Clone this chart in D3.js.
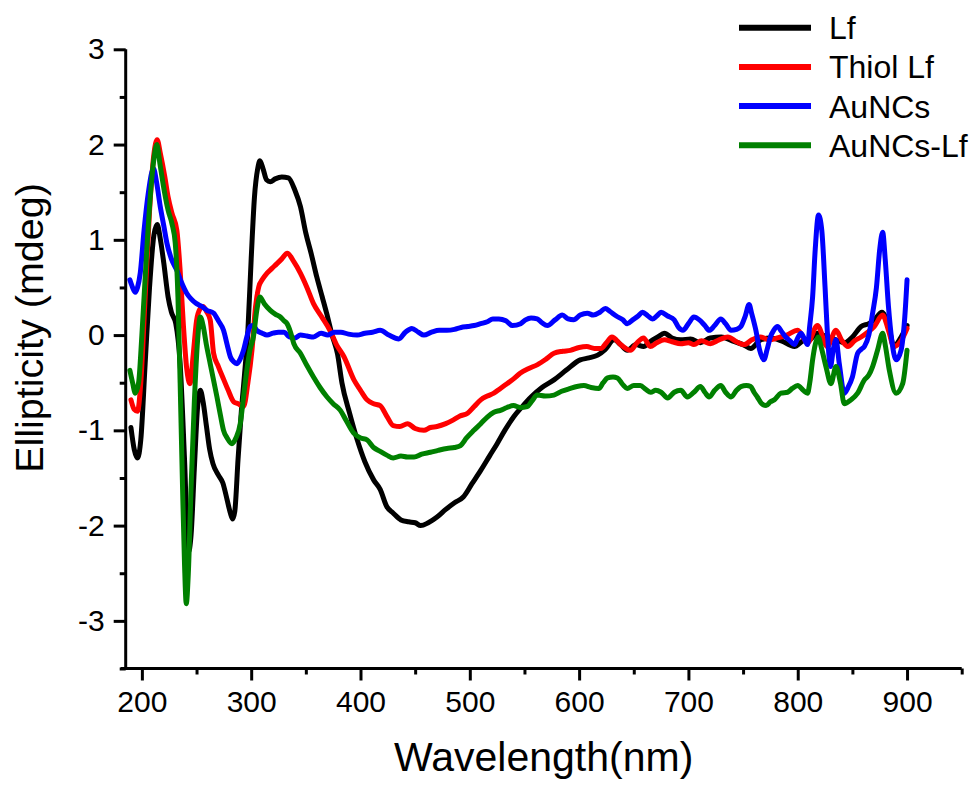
<!DOCTYPE html>
<html>
<head>
<meta charset="utf-8">
<script src="https://cdn.jsdelivr.net/npm/d3@7"></script>
<style>
  html, body { margin: 0; padding: 0; background: #fff; }
  svg { display: block; font-family: "Liberation Sans", Arial, sans-serif; }
</style>
</head>
<body>
<svg id="chart" width="970" height="789"></svg>
<script>
// ---------------- DATA ----------------
const seriesNames = ["Lf", "Thiol Lf", "AuNCs", "AuNCs-Lf"];
const seriesColors = ["#000000", "#ff0000", "#0000ff", "#008000"];

const xTickValues = [200, 300, 400, 500, 600, 700, 800, 900];
const yTickValues = [-3, -2, -1, 0, 1, 2, 3];

const lfWave = [190,193,196,199,203,207,211,214,217,220,224,227,231,235,239,242.5,245,248,251,253.5,256,259,262,265,270,274,278,281,283,285,288,291,294,297,300,303,306,308,311,314,317.5,322,328,334,340,345,350,355,360,365,369,374,379,383,390,397,404,412,418,424,430,437,444,450,455,462,470,478,486,494,502,510,518,525,532,540,548,556,566,577,588,601,609,617,624,632,638,644,652,659,666,672,678,685,693,702,711,720,730,740,750,757,766,775,785,797,805,811,818,827,835,843,850,858,865,870,877,883,888,893,900];
const lfVal = [-0.97,-1.2,-1.29,-1.1,-0.3,0.5,1.05,1.16,1.0,0.76,0.4,0.24,0.12,-0.3,-1.3,-2.28,-2.1,-1.4,-0.75,-0.58,-0.7,-0.95,-1.2,-1.35,-1.47,-1.55,-1.73,-1.87,-1.93,-1.85,-1.3,-0.8,-0.4,0.05,0.8,1.45,1.75,1.83,1.74,1.63,1.61,1.64,1.66,1.65,1.52,1.35,1.07,0.85,0.61,0.4,0.23,0.0,-0.2,-0.5,-0.82,-1.1,-1.33,-1.52,-1.62,-1.8,-1.87,-1.94,-1.96,-1.97,-2.0,-1.97,-1.91,-1.83,-1.76,-1.70,-1.56,-1.42,-1.27,-1.14,-1.0,-0.86,-0.75,-0.65,-0.55,-0.47,-0.37,-0.26,-0.24,-0.21,-0.15,-0.05,-0.1,-0.16,-0.1,-0.12,-0.06,-0.02,0.02,-0.03,-0.05,-0.04,-0.08,-0.03,-0.02,-0.06,-0.1,-0.14,-0.05,-0.03,-0.06,-0.12,-0.06,-0.05,0.02,-0.02,-0.05,-0.08,-0.02,0.09,0.12,0.16,0.24,0.1,-0.12,-0.05,0.1];

const thiolWave = [190,193,196,199,203,207,211,214,217,221,224,227.5,232,235,238,241,244,247,250,253,256,259,262.5,265.6,270,275,279,284,288,293,297,300.7,304,307,310,314.5,319,323.6,328,333,339,345,351,357,364,372,378,385,394,400,406,412,418,424,430,436,443,450,458,464,470,478,485,491,498,504,510,516,522,528,534,540,546,554,562,570,577,585,592,600,607,614,620,625,630,638,647,653,659,665,671,678,685,693,700,705,712,720,728,736,744,751,758,766,774,781.5,790,800,809,818,827,835,840,846,852,858,864,870,877.7,883,888,895,900];
const thiolVal = [-0.68,-0.78,-0.8,-0.5,0.4,1.3,1.9,2.05,1.9,1.66,1.45,1.28,1.10,0.68,0.1,-0.35,-0.51,-0.2,0.15,0.27,0.3,0.25,0.16,-0.19,-0.33,-0.47,-0.58,-0.70,-0.72,-0.75,-0.5,-0.16,0.3,0.51,0.58,0.65,0.70,0.75,0.80,0.86,0.77,0.65,0.5,0.33,0.2,0.05,-0.1,-0.23,-0.47,-0.58,-0.68,-0.72,-0.74,-0.85,-0.95,-0.96,-0.93,-0.98,-1.0,-0.97,-0.96,-0.93,-0.89,-0.85,-0.82,-0.75,-0.68,-0.64,-0.61,-0.56,-0.51,-0.46,-0.40,-0.35,-0.31,-0.25,-0.19,-0.17,-0.16,-0.13,-0.12,-0.14,-0.14,-0.08,-0.02,-0.1,-0.16,-0.08,-0.03,-0.12,-0.08,-0.05,-0.07,-0.09,-0.08,-0.1,-0.06,-0.09,-0.05,-0.02,-0.07,-0.1,-0.05,-0.02,-0.05,-0.03,0.0,0.05,-0.08,0.1,-0.12,0.05,-0.05,-0.12,-0.06,-0.02,0.03,0.09,0.21,0.05,-0.12,-0.05,0.07];

const aunWave = [189,191.5,194,196,198.5,202,206,210.6,213.5,216.8,220,223,227,232,236,241,245,250,255,259.5,265.6,270,274.7,278,281,284,287,290,293,296,299,302,305,310,314.5,320,325,330,335,340,345,351,357,364,370,376,382,389,397,404,411,418,426,435,441,447,453,458,465,472,479,486,492,498,504,510,516,521,526.6,533,539,546.5,551,556,561.7,566,571,578,584.6,590,595,601,607.5,613,619,624,628,634,640,644,649,654,658,663,667,671,675,681,687,691,695,700,705,710,715,719,724,729.6,734,739,744,748,752,755.5,758,761.7,765,769,772,775,778,781.5,785,789,793,797,800,803,806,809,811,813.6,816,819,822,825,827,830,832.5,835,838,842.6,846,850,854.8,858,861,865,868.5,872,875,877.7,880,883,886,890,894.5,898,900];
const aunVal = [0.58,0.5,0.45,0.5,0.65,1.1,1.5,1.75,1.6,1.35,1.15,0.96,0.8,0.68,0.56,0.44,0.38,0.33,0.3,0.26,0.23,0.15,0.05,-0.1,-0.23,-0.28,-0.30,-0.25,-0.16,-0.02,0.09,0.1,0.05,0.02,0.0,0.02,0.03,0.03,-0.02,-0.03,0.0,-0.01,-0.02,0.02,0.0,0.03,0.03,0.01,0.0,0.02,0.03,0.05,0.0,-0.04,0.03,0.07,0.03,0.0,0.03,0.05,0.05,0.06,0.08,0.09,0.1,0.12,0.14,0.17,0.17,0.15,0.1,0.12,0.16,0.18,0.17,0.13,0.10,0.16,0.21,0.17,0.16,0.21,0.23,0.21,0.24,0.28,0.25,0.2,0.16,0.12,0.16,0.20,0.24,0.2,0.17,0.2,0.24,0.2,0.16,0.08,0.05,0.12,0.19,0.16,0.1,0.05,0.1,0.17,0.12,0.05,0.06,0.09,0.2,0.32,0.22,0.05,-0.15,-0.26,-0.15,-0.02,0.05,0.09,0.04,-0.02,-0.06,-0.1,-0.03,0.02,-0.04,-0.1,0.1,0.4,0.9,1.26,1.1,0.5,0.05,-0.33,-0.15,-0.05,-0.3,-0.61,-0.55,-0.44,-0.19,-0.15,-0.12,0.0,0.23,0.5,0.9,1.08,0.8,0.3,-0.05,-0.26,-0.16,0.2,0.58];

const aunLfWave = [189,191.5,194,197,200,204,208,211,213.7,216.5,219.8,224,227.5,230.5,233,235,237,239,240.6,242.5,245,248,251,253.4,256,259,262.5,265.5,268.7,272,274.7,278,282.4,286,290,293,296,299,302,305,308,312,317.5,322,326.7,330,332.8,336,339,345,351,357,363,369.4,375,381.6,387,393.8,400,406,412,418,424,430,437,443,449,456,464,471,479,486,491.5,497,503.7,510,516,522,528,534,540,546,552.6,557,561.7,569,577,584,592,598,604.4,611,618,622,626,631,635,640,644,650,656,661,665.5,670,675,681,687,693,699,705,711,715,719,724,729.6,734,739,744,748,753,757,760,763,767,771,775,778.5,784.6,790.7,795,800,805,809,811,813.6,816,818.7,822,825.8,830.4,835,839,842.6,848.7,854.8,861,865,868.5,873,877.7,880,883.8,890,896,900];
const aunLfVal = [-0.37,-0.5,-0.61,-0.5,0.0,0.8,1.5,1.85,2.0,1.8,1.56,1.31,1.17,0.97,0.4,-0.5,-1.5,-2.4,-2.82,-2.5,-1.6,-0.7,-0.05,0.19,0.1,-0.1,-0.30,-0.47,-0.65,-0.85,-1.0,-1.08,-1.14,-1.08,-0.93,-0.65,-0.37,-0.15,-0.02,0.25,0.40,0.33,0.26,0.22,0.19,0.15,0.12,0.03,-0.09,-0.19,-0.32,-0.44,-0.55,-0.65,-0.72,-0.79,-0.9,-1.03,-1.08,-1.1,-1.18,-1.22,-1.26,-1.29,-1.27,-1.28,-1.28,-1.25,-1.23,-1.21,-1.19,-1.18,-1.16,-1.08,-1.0,-0.93,-0.86,-0.81,-0.79,-0.76,-0.74,-0.76,-0.75,-0.69,-0.63,-0.64,-0.63,-0.59,-0.56,-0.54,-0.53,-0.55,-0.56,-0.5,-0.45,-0.44,-0.45,-0.52,-0.56,-0.53,-0.53,-0.57,-0.6,-0.58,-0.6,-0.66,-0.6,-0.58,-0.65,-0.6,-0.54,-0.6,-0.65,-0.58,-0.53,-0.6,-0.65,-0.58,-0.54,-0.53,-0.54,-0.6,-0.65,-0.72,-0.74,-0.7,-0.68,-0.61,-0.6,-0.56,-0.53,-0.58,-0.61,-0.5,-0.26,-0.1,-0.02,-0.15,-0.33,-0.51,-0.33,-0.5,-0.72,-0.68,-0.61,-0.47,-0.42,-0.33,-0.16,0.02,-0.1,-0.37,-0.61,-0.51,-0.16];

const seriesWaves = [lfWave, thiolWave, aunWave, aunLfWave];
const seriesVals = [lfVal, thiolVal, aunVal, aunLfVal];

// ---------------- CHART ----------------
const svg = d3.select("#chart");
const x = d3.scaleLinear().domain([185.2, 950]).range([125.7, 961.7]);
const y = d3.scaleLinear().domain([-3.5, 3]).range([668.5, 49.3]);

const axisW = 3;
const hyphenFmt = d => String(d).replace("\u2212", "-");

// curves
const line = d3.line()
  .x(d => x(d[0]))
  .y(d => y(d[1]))
  .curve(d3.curveMonotoneX);

seriesNames.forEach((name, i) => {
  const pts = seriesWaves[i].map((w, j) => [w, seriesVals[i][j]]);
  svg.append("path")
    .datum(pts)
    .attr("fill", "none")
    .attr("stroke", seriesColors[i])
    .attr("stroke-width", 5)
    .attr("stroke-linejoin", "round")
    .attr("stroke-linecap", "round")
    .attr("d", line);
});

// x axis
const xMinor = d3.range(250, 951, 100);
const gx = svg.append("g").attr("transform", `translate(0,${y(-3.5)})`);
gx.call(d3.axisBottom(x).tickValues(xTickValues).tickSize(12).tickPadding(10).tickFormat(hyphenFmt));
gx.append("g").call(d3.axisBottom(x).tickValues(xMinor).tickSize(6).tickFormat(""))
  .select(".domain").remove();
gx.selectAll(".domain").attr("d", `M${x(185.2) - 5},0H${x(950)}`);
gx.selectAll("line, path").attr("stroke", "#000").attr("stroke-width", axisW);
gx.selectAll("text").attr("font-size", 30).attr("fill", "#000")
  .attr("font-family", "Liberation Sans, Arial, sans-serif");

// y axis
const yMinor = d3.range(-3.5, 3, 1);
const gy = svg.append("g").attr("transform", `translate(${x(185.2)},0)`);
gy.call(d3.axisLeft(y).tickValues(yTickValues).tickSize(12).tickPadding(9).tickFormat(hyphenFmt));
gy.append("g").call(d3.axisLeft(y).tickValues(yMinor).tickSize(6).tickFormat(""))
  .select(".domain").remove();
gy.selectAll(".domain").attr("d", `M0,${y(3)}V${y(-3.5) + 1.5}`);
gy.selectAll("line, path").attr("stroke", "#000").attr("stroke-width", axisW);
gy.selectAll("text").attr("font-size", 30).attr("fill", "#000")
  .attr("font-family", "Liberation Sans, Arial, sans-serif");

// axis titles
svg.append("text")
  .attr("x", (x(185.2) + x(950)) / 2)
  .attr("y", 771)
  .attr("text-anchor", "middle")
  .attr("font-size", 41)
  .text("Wavelength(nm)");

svg.append("text")
  .attr("transform", `translate(43,328) rotate(-90)`)
  .attr("text-anchor", "middle")
  .attr("font-size", 39.5)
  .text("Ellipticity (mdeg)");

// legend
const legendY = [27.7, 66.9, 106.1, 145.3];
const lg = svg.append("g");
seriesNames.forEach((name, i) => {
  lg.append("line")
    .attr("x1", 739).attr("x2", 811)
    .attr("y1", legendY[i]).attr("y2", legendY[i])
    .attr("stroke", seriesColors[i]).attr("stroke-width", 6);
  lg.append("text")
    .attr("x", 829).attr("y", legendY[i] + 11.5)
    .attr("font-size", 32)
    .text(name);
});
</script>
</body>
</html>
